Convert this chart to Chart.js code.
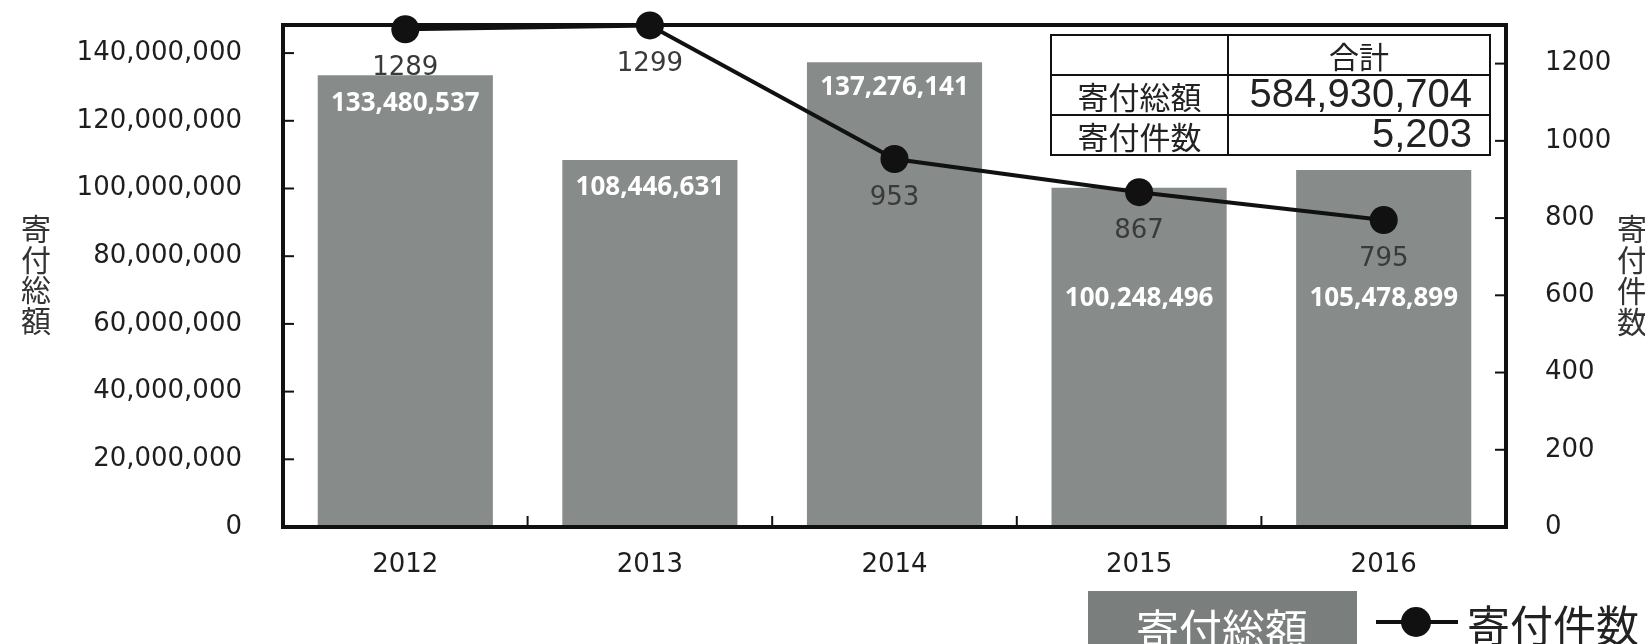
<!DOCTYPE html>
<html><head><meta charset="utf-8">
<script src="https://cdn.jsdelivr.net/npm/chart.js@4/dist/chart.umd.min.js"></script>
<style>html,body{margin:0;padding:0;background:#fff;overflow:hidden}canvas{display:block}</style>
</head><body>
<canvas id="c" width="1645" height="644"></canvas>
<script>
// ---- data ----
const categories = ['2012', '2013', '2014', '2015', '2016'];
const donationAmounts = [133480537, 108446631, 137276141, 100248496, 105478899];
const donationCounts = [1289, 1299, 953, 867, 795];
const amountTicks = [0, 20000000, 40000000, 60000000, 80000000, 100000000, 120000000, 140000000];
const countTicks = [0, 200, 400, 600, 800, 1000, 1200];
const amountLabel = '寄付総額';
const countLabel = '寄付件数';
const totalLabel = '合計';

const totalAmount = donationAmounts.reduce((a, b) => a + b, 0);
const totalCount = donationCounts.reduce((a, b) => a + b, 0);

// ---- styles ----
const barLabelOffsets = [28, 28, 25, 111, 129];
const NUM_FONT = '"DejaVu Sans", sans-serif';
const CJK_FONT = '"Noto Sans CJK JP", sans-serif';
const fmt = v => v.toLocaleString('en-US');

function seg(ctx, x1, y1, x2, y2) { ctx.beginPath(); ctx.moveTo(x1, y1); ctx.lineTo(x2, y2); ctx.stroke(); }

const decor = {
  id: 'decor',
  afterDatasetDraw(chart, args) {
    if (args.meta.type !== 'bar') return;
    const { ctx, chartArea: a, scales } = chart;
    ctx.save();
    // bar value labels
    ctx.fillStyle = '#ffffff';
    ctx.font = 'bold 26px "Open Sans", sans-serif';
    ctx.textAlign = 'center';
    ctx.textBaseline = 'middle';
    args.meta.data.forEach((bar, i) => {
      ctx.fillText(fmt(donationAmounts[i]), bar.x, bar.y + barLabelOffsets[i]);
    });
    // inner tick marks
    ctx.strokeStyle = '#111';
    ctx.lineWidth = 2;
    amountTicks.forEach(v => { if (v === 0) return; const y = scales.y.getPixelForValue(v); seg(ctx, a.left, y, a.left + 11, y); });
    countTicks.forEach(v => { if (v === 0) return; const y = scales.y1.getPixelForValue(v); seg(ctx, a.right - 11, y, a.right, y); });
    for (let i = 0; i < categories.length - 1; i++) {
      const x = (scales.x.getPixelForValue(i) + scales.x.getPixelForValue(i + 1)) / 2;
      seg(ctx, x, a.bottom, x, a.bottom - 11);
    }
    // frame
    ctx.lineWidth = 4;
    ctx.strokeRect(a.left, a.top, a.right - a.left, a.bottom - a.top);
    ctx.restore();
  },
  afterDatasetsDraw(chart) {
    const { ctx } = chart;
    const meta = chart.getDatasetMeta(0);
    ctx.save();
    ctx.fillStyle = '#3a3a3a';
    ctx.font = '26px ' + NUM_FONT;
    ctx.textAlign = 'center';
    ctx.textBaseline = 'middle';
    meta.data.forEach((pt, i) => ctx.fillText(String(donationCounts[i]), pt.x, pt.y + 39));
    ctx.restore();
  },
  afterDraw(chart) {
    const { ctx } = chart;
    ctx.save();
    // --- summary table ---
    const tx = 1051, tm = 1228, tr = 1490, rows = [35, 75, 115, 155];
    ctx.fillStyle = '#fff';
    ctx.fillRect(tx, rows[0], tr - tx, rows[3] - rows[0]);
    ctx.strokeStyle = '#111';
    ctx.lineWidth = 2;
    ctx.strokeRect(tx, rows[0], tr - tx, rows[3] - rows[0]);
    seg(ctx, tx, rows[1], tr, rows[1]);
    seg(ctx, tx, rows[2], tr, rows[2]);
    seg(ctx, tm, rows[0], tm, rows[3]);
    ctx.fillStyle = '#222';
    ctx.textBaseline = 'middle';
    ctx.textAlign = 'center';
    ctx.font = '30px ' + CJK_FONT;
    ctx.fillText(totalLabel, (tm + tr) / 2, 57);
    ctx.font = '31px ' + CJK_FONT;
    ctx.fillText(amountLabel, (tx + tm) / 2, 97);
    ctx.fillText(countLabel, (tx + tm) / 2, 137);
    ctx.textAlign = 'right';
    ctx.font = '40px "Liberation Sans", Arial, sans-serif';
    ctx.fillText(fmt(totalAmount), 1472, 96);
    ctx.fillText(fmt(totalCount), 1472, 136);

    // --- axis titles (vertical stacked characters) ---
    ctx.fillStyle = '#333';
    ctx.textAlign = 'center';
    ctx.font = '30px ' + CJK_FONT;
    [...amountLabel].forEach((ch, i) => ctx.fillText(ch, 36, 229 + i * 30.5));
    [...countLabel].forEach((ch, i) => ctx.fillText(ch, 1632, 229 + i * 31));

    // --- legend ---
    ctx.fillStyle = '#7a7e7d';
    ctx.fillRect(1088, 591, 269, 60);
    ctx.fillStyle = '#ffffff';
    ctx.font = '43px ' + CJK_FONT;
    ctx.textAlign = 'center';
    ctx.fillText(amountLabel, 1222, 630);
    ctx.strokeStyle = '#111';
    ctx.lineWidth = 4;
    seg(ctx, 1376, 622, 1458, 622);
    ctx.fillStyle = '#111';
    ctx.beginPath(); ctx.arc(1416, 622, 15, 0, Math.PI * 2); ctx.fill();
    ctx.fillStyle = '#222';
    ctx.textAlign = 'left';
    ctx.fillText(countLabel, 1467, 626);
    ctx.restore();
  }
};

function fixVertical(width) {
  return s => { s.width = width; s.paddingTop = 0; s.paddingBottom = 0; };
}

new Chart(document.getElementById('c'), {
  data: {
    labels: categories,
    datasets: [
      {
        type: 'line', label: countLabel, data: donationCounts, yAxisID: 'y1', order: 0,
        borderColor: '#111', borderWidth: 4, tension: 0,
        pointRadius: 14, pointBackgroundColor: '#111', pointBorderWidth: 0, clip: false
      },
      {
        type: 'bar', label: amountLabel, data: donationAmounts, yAxisID: 'y', order: 1,
        backgroundColor: '#878b8a', borderWidth: 0, barPercentage: 0.716, categoryPercentage: 1
      }
    ]
  },
  options: {
    responsive: false, devicePixelRatio: 1, animation: false, events: [],
    layout: { padding: { top: 25, left: 0, right: 0, bottom: 0 } },
    plugins: { legend: { display: false }, tooltip: { enabled: false } },
    scales: {
      x: {
        grid: { display: false }, border: { display: false },
        ticks: { color: '#1e1e1e', font: { family: NUM_FONT, size: 26 }, padding: 15 },
        afterFit: s => { s.height = 117; s.paddingLeft = 0; s.paddingRight = 0; }
      },
      y: {
        position: 'left', min: 0, max: 148300000,
        grid: { display: false }, border: { display: false },
        afterBuildTicks: s => { s.ticks = amountTicks.map(v => ({ value: v })); },
        ticks: { color: '#1e1e1e', font: { family: NUM_FONT, size: 26 }, padding: 33, autoSkip: false, callback: v => fmt(v) },
        afterFit: fixVertical(283)
      },
      y1: {
        position: 'right', min: 0, max: 1300,
        grid: { display: false }, border: { display: false },
        afterBuildTicks: s => { s.ticks = countTicks.map(v => ({ value: v })); },
        ticks: { color: '#1e1e1e', font: { family: NUM_FONT, size: 26 }, padding: 31, autoSkip: false, callback: v => String(v) },
        afterFit: fixVertical(139)
      }
    }
  },
  plugins: [decor]
});
</script>
</body></html>
